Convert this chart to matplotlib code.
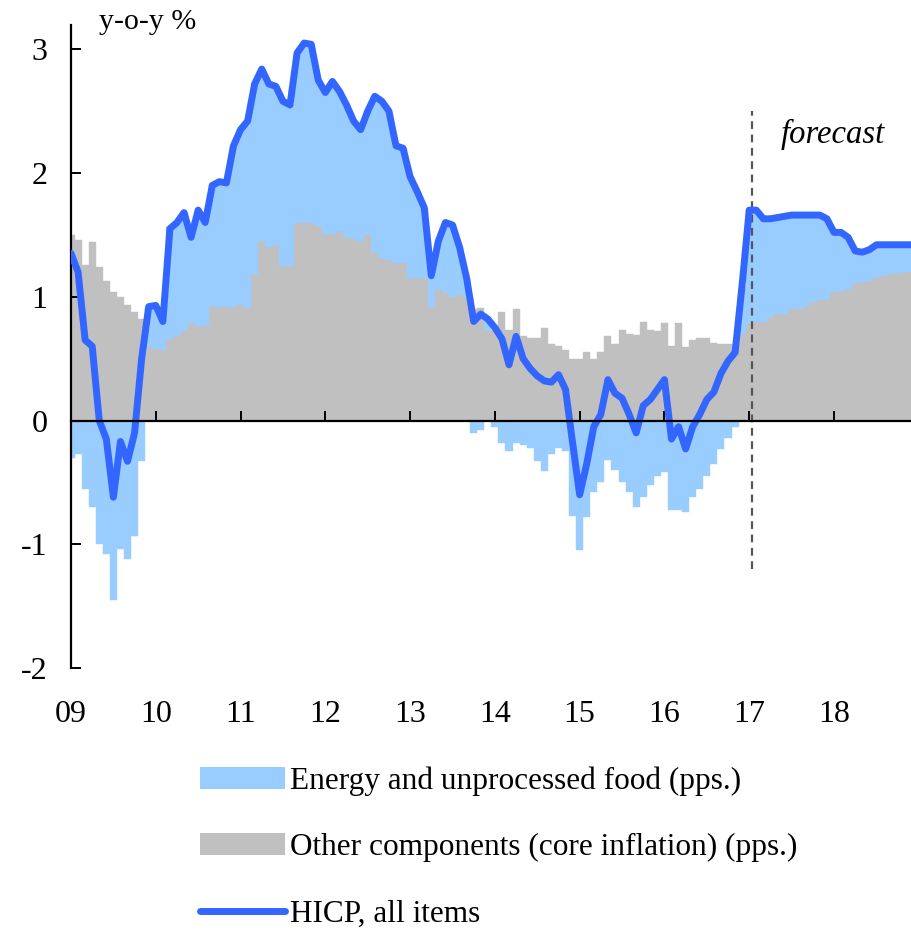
import numpy as np
import matplotlib
matplotlib.use("Agg")
import matplotlib.pyplot as plt
from matplotlib.patches import Patch
from matplotlib.lines import Line2D

plt.rcParams['font.family'] = ['Liberation Serif', 'DejaVu Serif']
plt.rcParams['font.size'] = 21.5

# ---- data: monthly, Jan 2009 .. Dec 2018 ----
year_labels = ["09", "10", "11", "12", "13", "14", "15", "16", "17", "18"]
months = np.arange(120)

hicp = [
    1.35, 1.20, 0.65, 0.60, 0.00, -0.15, -0.62, -0.17, -0.33, -0.10, 0.50, 0.92,
    0.93, 0.80, 1.55, 1.60, 1.68, 1.48, 1.70, 1.60, 1.90, 1.93, 1.92, 2.22,
    2.35, 2.42, 2.72, 2.84, 2.72, 2.70, 2.58, 2.55, 2.97, 3.05, 3.04, 2.75,
    2.65, 2.74, 2.66, 2.55, 2.42, 2.35, 2.50, 2.62, 2.58, 2.50, 2.22, 2.20,
    1.97, 1.85, 1.72, 1.17, 1.45, 1.60, 1.58, 1.40, 1.15, 0.80, 0.86, 0.82,
    0.75, 0.66, 0.45, 0.68, 0.50, 0.42, 0.36, 0.32, 0.31, 0.37, 0.25, -0.18,
    -0.60, -0.35, -0.05, 0.05, 0.33, 0.22, 0.18, 0.05, -0.10, 0.12, 0.17, 0.25,
    0.33, -0.15, -0.05, -0.23, -0.05, 0.05, 0.17, 0.23, 0.38, 0.48, 0.55, 1.10,
    1.70, 1.70, 1.63, 1.63, 1.64, 1.65, 1.66, 1.66, 1.66, 1.66, 1.66, 1.63,
    1.52, 1.52, 1.48, 1.37, 1.36, 1.38, 1.42, 1.42, 1.42, 1.42, 1.42, 1.42,
]

core = [
    1.50, 1.46, 1.26, 1.44, 1.24, 1.13, 1.04, 1.00, 0.93, 0.88, 0.82, 0.60,
    0.58, 0.57, 0.66, 0.68, 0.73, 0.79, 0.76, 0.76, 0.92, 0.92, 0.92, 0.92,
    0.93, 0.91, 1.18, 1.45, 1.40, 1.42, 1.25, 1.25, 1.60, 1.60, 1.60, 1.57,
    1.51, 1.51, 1.53, 1.48, 1.47, 1.45, 1.51, 1.36, 1.31, 1.30, 1.27, 1.27,
    1.15, 1.15, 1.15, 0.92, 1.06, 1.03, 1.00, 1.02, 1.00, 0.90, 0.91, 0.73,
    0.73, 0.88, 0.73, 0.90, 0.68, 0.67, 0.67, 0.75, 0.62, 0.60, 0.57, 0.50,
    0.50, 0.55, 0.50, 0.55, 0.68, 0.62, 0.73, 0.70, 0.69, 0.80, 0.73, 0.72,
    0.79, 0.60, 0.79, 0.59, 0.65, 0.67, 0.67, 0.63, 0.62, 0.62, 0.62, 0.70,
    0.78, 0.80, 0.80, 0.84, 0.86, 0.86, 0.90, 0.90, 0.92, 0.96, 0.97, 0.98,
    1.04, 1.05, 1.06, 1.11, 1.12, 1.13, 1.16, 1.17, 1.18, 1.19, 1.20, 1.20,
]

energy = [
    -0.30, -0.27, -0.55, -0.70, -1.00, -1.08, -1.45, -1.04, -1.12, -0.93, -0.33, 0.32,
    0.35, 0.23, 0.90, 0.92, 0.95, 0.70, 0.93, 0.84, 0.98, 1.00, 1.00, 1.30,
    1.42, 1.50, 1.55, 1.38, 1.32, 1.28, 1.33, 1.30, 1.37, 1.45, 1.44, 1.18,
    1.14, 1.23, 1.13, 1.07, 0.95, 0.90, 0.99, 1.26, 1.27, 1.20, 0.95, 0.93,
    0.82, 0.70, 0.57, 0.24, 0.39, 0.57, 0.58, 0.38, 0.15, -0.10, -0.08, 0.08,
    -0.05, -0.18, -0.25, -0.18, -0.20, -0.22, -0.33, -0.41, -0.27, -0.22, -0.25, -0.77,
    -1.05, -0.78, -0.58, -0.50, -0.32, -0.40, -0.50, -0.58, -0.70, -0.62, -0.52, -0.45,
    -0.42, -0.72, -0.72, -0.74, -0.62, -0.55, -0.45, -0.35, -0.23, -0.14, -0.05, 0.38,
    0.92, 0.90, 0.85, 0.80, 0.78, 0.79, 0.76, 0.76, 0.74, 0.70, 0.69, 0.65,
    0.48, 0.47, 0.42, 0.26, 0.24, 0.25, 0.26, 0.25, 0.24, 0.23, 0.22, 0.22,
]

forecast_start = 96.4

# ---- styling ----
C_ENERGY = '#99CCFF'
C_CORE = '#C0C0C0'
C_HICP = '#3366FF'

W, H = 911, 935
fig = plt.figure(figsize=(W / 100, H / 100), dpi=100)
ax = fig.add_axes([71 / W, 1 - 668 / H, 840 / W, (668 - 24.5) / H])

core_a = np.array(core)
energy_a = np.array(energy)
bottom = np.where(energy_a > 0, core_a, 0.0)

ax.bar(months, core_a, width=1.0, color=C_CORE, edgecolor=C_CORE, linewidth=0.3, zorder=1)
ax.bar(months, energy_a, bottom=bottom, width=1.0, color=C_ENERGY, edgecolor=C_ENERGY,
       linewidth=0.3, zorder=1)
ax.plot(months, hicp, color=C_HICP, lw=5, solid_joinstyle='round', solid_capstyle='round', zorder=4)

ax.vlines(forecast_start, -1.2, 2.5, colors='#555555', linestyles=(0, (3.5, 2.5)), lw=1.6, zorder=3)

ax.set_xlim(0.15, 118.9)
ax.set_ylim(-2, 3.2)

for s in ['top', 'right']:
    ax.spines[s].set_visible(False)
ax.spines['bottom'].set_position(('data', 0))
ax.spines['bottom'].set_linewidth(1.6)
ax.spines['bottom'].set_zorder(5)
ax.spines['left'].set_linewidth(1.6)

ax.set_xticks(months[::12])
ax.set_xticklabels(year_labels)
ax.set_yticks([-2, -1, 0, 1, 2, 3])
ax.set_yticklabels(['-2', '-1', '0', '1', '2', '3'])
ax.tick_params(axis='x', direction='in', length=7, width=1.4, pad=201, labelsize=23)
ax.tick_params(axis='y', direction='in', length=7, width=1.4, pad=17, labelsize=23)

ax.text(100.4, 2.31, 'forecast', style='italic', va='center', ha='left', fontsize=23.5)
ax.text(3.9, 3.22, 'y-o-y %', va='center', ha='left', clip_on=False)

handles = [
    Patch(facecolor=C_ENERGY, edgecolor='none'),
    Patch(facecolor=C_CORE, edgecolor='none'),
    Line2D([0], [0], color=C_HICP, lw=5, solid_capstyle='round'),
]
labels = ['Energy and unprocessed food (pps.)',
          'Other components (core inflation) (pps.)',
          'HICP, all items']
fig.legend(handles, labels, loc='upper left', bbox_to_anchor=(200 / W, 1 - 766 / H),
           frameon=False, handlelength=2.72, handleheight=0.7, handletextpad=0.15,
           labelspacing=1.2, borderpad=0, borderaxespad=0, fontsize=22.5)

fig.savefig('out.png', dpi=100)
